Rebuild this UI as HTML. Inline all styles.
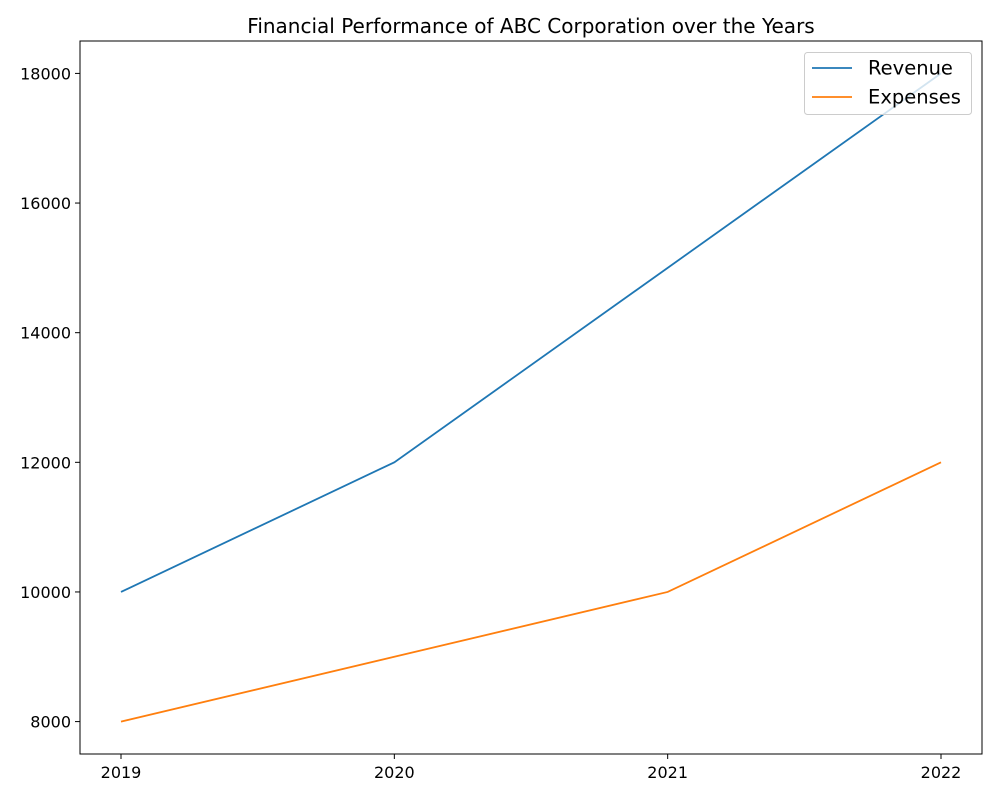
<!DOCTYPE html>
<html><head><meta charset="utf-8"><style>
body{margin:0;background:#fff;}
text{font-family:"DejaVu Sans","Liberation Sans",sans-serif;}
</style></head><body>
<svg id="chart" width="1000" height="800" xmlns="http://www.w3.org/2000/svg">
<rect width="1000" height="800" fill="#fff"/>
<text x="531" y="33" font-size="20" text-anchor="middle">Financial Performance of ABC Corporation over the Years</text>
<g id="plot"></g>
</svg>
<script>
const years = [2019, 2020, 2021, 2022];
const revenue = [10000, 12000, 15000, 18000];
const expenses = [8000, 9000, 10000, 12000];
const yTicks = [8000, 10000, 12000, 14000, 16000, 18000];

const L=80,R=982,T=41,B=754;
const xMin=2018.85,xMax=2022.15,yMin=7500,yMax=18500;
const xs=v=>L+(v-xMin)/(xMax-xMin)*(R-L);
const ys=v=>B-(v-yMin)/(yMax-yMin)*(B-T);
const NS="http://www.w3.org/2000/svg";
const g=document.getElementById('plot');
function mk(tag,attrs,parent){const e=document.createElementNS(NS,tag);for(const k in attrs)e.setAttribute(k,attrs[k]);(parent||g).appendChild(e);return e;}

years.forEach(y=>{
  const gx=mk('g',{});
  
  
  mk('line',{x1:xs(y),x2:xs(y),y1:B,y2:B+5,stroke:'#000','stroke-width':1},gx);
  const t=mk('text',{x:xs(y),y:B+24,'font-size':16,'text-anchor':'middle'},gx);t.textContent=y;
});
yTicks.forEach(v=>{
  const gy=mk('g',{});
  
  
  mk('line',{x1:L-5,x2:L,y1:ys(v),y2:ys(v),stroke:'#000','stroke-width':1},gy);
  const t=mk('text',{x:L-9,y:ys(v)+6,'font-size':16,'text-anchor':'end'},gy);t.textContent=v;
});
function series(data,color,name){
  const p=mk('polyline',{points:data.map((v,i)=>xs(years[i])+','+ys(v)).join(' '),fill:'none',stroke:color,'stroke-width':1.8});
  
  
}
series(revenue,'#1f77b4','revenue-line');
series(expenses,'#ff7f0e','expenses-line');
const frame=mk('rect',{x:L,y:T,width:R-L,height:B-T,fill:'none',stroke:'#000','stroke-width':1});



const lg=mk('g',{});


mk('rect',{x:804.5,y:52.5,width:167,height:62,rx:3,fill:'#fff','fill-opacity':0.8,stroke:'#ccc'},lg);
[['Revenue','#1f77b4',68],['Expenses','#ff7f0e',97]].forEach(([n,c,y])=>{
  const e=mk('g',{},lg);
  
  
  mk('line',{x1:812,x2:852,y1:y,y2:y,stroke:c,'stroke-width':1.8},e);
  const t=mk('text',{x:868,y:y+6.5,'font-size':19.5},e);t.textContent=n;
});
</script>
</body></html>
